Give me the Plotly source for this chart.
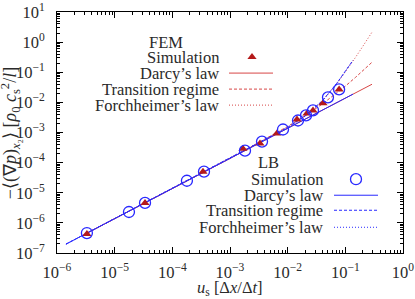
import plotly.graph_objects as go

# ---- data ----
fem_u = [3.3e-6, 3.36e-5, 3.4e-4, 1.68e-3, 3.31e-3, 6.5e-3, 1.45e-2, 2.16e-2, 2.75e-2, 4.1e-2, 7.8e-2]
fem_g = [4.3e-7, 4.6e-6, 5.0e-5, 2.9e-4, 4.3e-4, 9.3e-4, 2.7e-3, 4.3e-3, 5.4e-3, 9.3e-3, 2.7e-2]

lb_u = [3.3e-6, 1.77e-5, 3.36e-5, 1.79e-4, 3.54e-4, 1.82e-3, 3.59e-3, 8.3e-3, 1.51e-2, 2.08e-2, 2.75e-2, 5.0e-2, 7.8e-2]
lb_g = [4.6e-7, 2.3e-6, 4.6e-6, 2.5e-5, 5.0e-5, 2.5e-4, 5.0e-4, 1.26e-3, 2.5e-3, 3.7e-3, 5.4e-3, 1.47e-2, 2.7e-2]

# FEM model curves
fem_darcy_u = [3.3e-6, 0.29]
fem_darcy_g = [4.55e-7, 0.040]
fem_trans_u = [3.3e-6, 1e-3, 0.01, 0.02, 0.04, 0.07, 0.1, 0.15, 0.2, 0.29]
fem_trans_g = [4.55e-7, 1.38e-4, 0.00159, 0.00359, 0.00885, 0.0199, 0.0346, 0.0675, 0.111, 0.215]
fem_forch_u = [3.3e-6, 1e-3, 0.01, 0.02, 0.04, 0.07, 0.1, 0.15, 0.2, 0.29]
fem_forch_g = [4.55e-7, 1.38e-4, 0.00147, 0.00345, 0.0110, 0.0392, 0.0998, 0.311, 0.716, 2.14]

# LB model curves
lb_darcy_u = [1.43e-6, 0.136]
lb_darcy_g = [1.97e-7, 0.0188]
lb_trans_u = [1.43e-6, 1e-3, 0.01, 0.02, 0.04, 0.07, 0.1, 0.136]
lb_trans_g = [1.97e-7, 1.38e-4, 0.00147, 0.0035, 0.0114, 0.0412, 0.106, 0.25]
lb_forch_u = [1.43e-6, 1e-3, 0.01, 0.02, 0.04, 0.07, 0.1, 0.136]
lb_forch_g = [1.97e-7, 1.38e-4, 0.00147, 0.0035, 0.0114, 0.0412, 0.106, 0.25]

x_tick_vals = [1e-6, 1e-5, 1e-4, 1e-3, 1e-2, 1e-1, 1e0]
x_tick_text = ["10<sup>−6</sup>", "10<sup>−5</sup>", "10<sup>−4</sup>", "10<sup>−3</sup>",
               "10<sup>−2</sup>", "10<sup>−1</sup>", "10<sup>0</sup>"]
y_tick_vals = [1e-7, 1e-6, 1e-5, 1e-4, 1e-3, 1e-2, 1e-1, 1e0, 1e1]
y_tick_text = ["10<sup>−7</sup>", "10<sup>−6</sup>", "10<sup>−5</sup>", "10<sup>−4</sup>",
               "10<sup>−3</sup>", "10<sup>−2</sup>", "10<sup>−1</sup>", "10<sup>0</sup>", "10<sup>1</sup>"]

RED = "rgb(180,25,25)"
RED_L = "rgb(215,70,70)"
BLUE = "rgb(40,40,255)"
FONT = "Liberation Serif"
TXT = "#2a2a2a"
FS = 16.5
DASH = "3px,2px"
DOT = "1px,2px"

# plot-area pixel frame
L, R, T, B = 57, 403, 12, 252.7
W, H = 415, 299

fig = go.Figure()

def line(u, g, color, dash):
    fig.add_trace(go.Scatter(x=u, y=g, mode="lines", line=dict(color=color, width=1, dash=dash),
                             showlegend=False, hoverinfo="skip"))

line(fem_forch_u, fem_forch_g, RED_L, DOT)
line(fem_trans_u, fem_trans_g, RED_L, DASH)
line(fem_darcy_u, fem_darcy_g, RED_L, "solid")
line(lb_forch_u, lb_forch_g, BLUE, DOT)
line(lb_trans_u, lb_trans_g, BLUE, DASH)
line(lb_darcy_u, lb_darcy_g, BLUE, "solid")

fig.add_trace(go.Scatter(x=fem_u, y=fem_g, mode="markers",
                         marker=dict(symbol="triangle-up", size=8, color=RED),
                         showlegend=False))
fig.add_trace(go.Scatter(x=lb_u, y=lb_g, mode="markers",
                         marker=dict(symbol="circle-open", size=11, color=BLUE, line=dict(width=1.3)),
                         showlegend=False))

# ---- key (legend) in pixel coordinates on overlay axes ----
key_lines = [
    (229, 273, 73, RED_L, "solid"), (229, 273, 89, RED_L, DASH), (229, 273, 105, RED_L, DOT),
    (334, 378, 195, BLUE, "solid"), (334, 378, 210, BLUE, DASH), (334, 378, 227, BLUE, DOT),
]
for x0, x1, yy, c, d in key_lines:
    fig.add_trace(go.Scatter(x=[x0, x1], y=[yy, yy], xaxis="x2", yaxis="y2", mode="lines",
                             line=dict(color=c, width=1, dash=d), showlegend=False, hoverinfo="skip"))
fig.add_trace(go.Scatter(x=[252], y=[57], xaxis="x2", yaxis="y2", mode="markers",
                         marker=dict(symbol="triangle-up", size=8, color=RED), showlegend=False))
fig.add_trace(go.Scatter(x=[356], y=[179], xaxis="x2", yaxis="y2", mode="markers",
                         marker=dict(symbol="circle-open", size=11, color=BLUE, line=dict(width=1.3)),
                         showlegend=False))

ann = []
def text(px, py, s, anchor="right", size=FS, angle=0):
    ann.append(dict(x=(px - L) / (R - L), y=(B - py) / (B - T), xref="paper", yref="paper",
                    text=s, showarrow=False, xanchor=anchor, yanchor="middle", textangle=angle,
                    font=dict(family=FONT, size=size, color=TXT)))

text(166, 42, "FEM", "center")
text(221, 57, "Simulation")
text(221, 73, "Darcy’s law")
text(221, 89, "Transition regime")
text(221, 105, "Forchheimer’s law")
text(268, 162, "LB", "center")
text(325, 179, "Simulation")
text(325, 195, "Darcy’s law")
text(325, 210, "Transition regime")
text(325, 227, "Forchheimer’s law")
text(230, 288, "<i>u</i><sub>s</sub> [Δ<i>x</i>/Δ<i>t</i>]", "center")
text(10, 133, "−⟨(∇<i>p</i>)<sub><i>x</i>₂</sub>⟩ [<i>ρ</i><sub>0</sub> <i>c</i><sub>s</sub><sup>2</sup>/<i>l</i>]",
     "center", size=18, angle=-90)

x_minor = [m * 10.0 ** e for e in range(-6, 0) for m in range(2, 10)]
y_minor = [m * 10.0 ** e for e in range(-7, 1) for m in range(2, 10)]

axis_common = dict(showline=True, linecolor="black", linewidth=1, mirror="allticks", ticks="inside",
                   ticklen=6, tickcolor="black", showgrid=False, zeroline=False, automargin=False,
                   tickfont=dict(family=FONT, size=FS, color=TXT))

fig.update_layout(
    width=W, height=H,
    margin=dict(l=L, r=W - R, t=T, b=H - B, autoexpand=False),
    plot_bgcolor="white", paper_bgcolor="white",
    showlegend=False,
    xaxis=dict(type="log", range=[-6, 0], tickmode="array", tickvals=x_tick_vals, ticktext=x_tick_text,
               minor=dict(ticks="inside", ticklen=3, tickcolor="black", tickvals=x_minor, showgrid=False),
               ticklabelstandoff=4, **axis_common),
    yaxis=dict(type="log", range=[-7, 1], tickmode="array", tickvals=y_tick_vals, ticktext=y_tick_text,
               minor=dict(ticks="inside", ticklen=3, tickcolor="black", tickvals=y_minor, showgrid=False),
               ticklabelstandoff=8, **axis_common),
    xaxis2=dict(overlaying="x", range=[L, R], visible=False, fixedrange=True),
    yaxis2=dict(overlaying="y", range=[B, T], visible=False, fixedrange=True),
    annotations=ann,
)

fig.write_html("out.html", config={"displayModeBar": False})

# remove the browser's default page margin so the figure sits at the window's corner
with open("out.html", "r", encoding="utf-8") as f:
    html = f.read()
html = html.replace("<head>", "<head><style>html,body{margin:0;padding:0;}</style>", 1)
with open("out.html", "w", encoding="utf-8") as f:
    f.write(html)
